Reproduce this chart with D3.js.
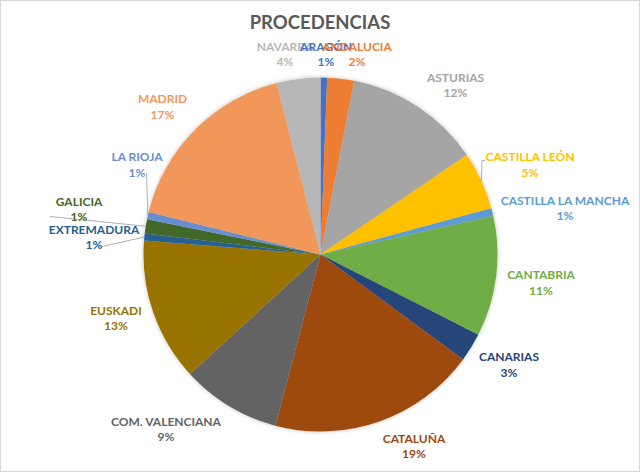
<!DOCTYPE html>
<html>
<head>
<meta charset="utf-8">
<script src="https://cdn.jsdelivr.net/npm/d3@7"></script>
<style>
  html, body { margin: 0; padding: 0; background: #fff; }
  svg { display: block; }
  text { font-family: Lato, "Open Sans", sans-serif; font-weight: bold; }
</style>
</head>
<body>
<svg id="chart" width="640" height="473"></svg>
<script>
// ---- data ----
const regions = ["ARAGÓN", "ANDALUCIA", "ASTURIAS", "CASTILLA LEÓN", "CASTILLA LA MANCHA",
  "CANTABRIA", "CANARIAS", "CATALUÑA", "COM. VALENCIANA", "EUSKADI",
  "EXTREMADURA", "GALICIA", "LA RIOJA", "MADRID", "NAVARRA"];
const shares = [0.6, 2.45, 12.45, 5.3, 0.7, 11.0, 2.6, 19.0, 9.1, 13.05, 0.65, 1.3, 0.65, 17.15, 4.0];
const colors = ["#4472C4", "#ED7D31", "#A5A5A5", "#FFC000", "#5B9BD5",
  "#70AD47", "#264478", "#9E480E", "#636363", "#997300",
  "#255E91", "#43682B", "#698ED0", "#F1975A", "#B7B7B7"];
const title = "PROCEDENCIAS";

// ---- layout (label block centres, leader line starts) ----
const labelPos = {
  "ARAGÓN": [326, 54], "ANDALUCIA": [357, 54], "ASTURIAS": [455.5, 85.3],
  "CASTILLA LEÓN": [530, 164.7], "CASTILLA LA MANCHA": [565, 208.3], "CANTABRIA": [541, 282.5],
  "CANARIAS": [509, 364.7], "CATALUÑA": [414, 446], "COM. VALENCIANA": [166, 429],
  "EUSKADI": [116, 318.3], "EXTREMADURA": [94, 237], "GALICIA": [79, 209],
  "LA RIOJA": [137, 164.7], "MADRID": [162.5, 106.7], "NAVARRA": [285, 54]
};
const leaders = {
  "CASTILLA LEÓN": [[485, 160.5], [482, 160.5]],
  "LA RIOJA": [[146.5, 173]],
  "GALICIA": [[50, 216.5]],
  "EXTREMADURA": [[100, 247]]
};

const W = 640, H = 473;
const cx = 320.5, cy = 254.5, R = 177;
const svg = d3.select("#chart");

svg.append("rect").attr("x", 0.5).attr("y", 0.5).attr("width", W - 1).attr("height", H - 2)
  .attr("fill", "#fff").attr("stroke", "#d9d9d9");

const defs = svg.append("defs");
const f = defs.append("filter").attr("id", "sh").attr("x", "-10%").attr("y", "-10%")
  .attr("width", "120%").attr("height", "120%");
f.append("feDropShadow").attr("dx", 0).attr("dy", 0).attr("stdDeviation", 2)
  .attr("flood-color", "#000").attr("flood-opacity", 0.25);

svg.append("text").attr("x", 320).attr("y", 28.5).attr("text-anchor", "middle")
  .attr("font-size", 18.5).attr("fill", "#595959").text(title);

const data = regions.map((name, i) => ({ name, value: shares[i], color: colors[i] }));
const total = d3.sum(shares);
const pie = d3.pie().sort(null).value(d => d.value);
const arcs = pie(data);
const arc = d3.arc().innerRadius(0).outerRadius(R);

const g = svg.append("g").attr("transform", `translate(${cx},${cy})`);
g.append("g").attr("filter", "url(#sh)")
  .selectAll("path").data(arcs).join("path")
  .attr("d", arc).attr("fill", d => d.data.color);

// leader lines
const edge = a => {
  const m = (a.startAngle + a.endAngle) / 2;
  return [cx + R * Math.sin(m), cy - R * Math.cos(m)];
};
arcs.forEach(a => {
  const pts = leaders[a.data.name];
  if (!pts) return;
  const all = pts.concat([edge(a)]);
  svg.append("path").attr("d", d3.line()(all)).attr("fill", "none")
    .attr("stroke", "#a6a6a6").attr("stroke-width", 0.9);
});

// labels (Navarra drawn first so others sit on top)
const pct = d3.format(".0%");
const order = [arcs[arcs.length - 1]].concat(arcs.slice(0, -1));
const lg = svg.append("g");
order.forEach(a => {
  const [x, y] = labelPos[a.data.name];
  const t = lg.append("text").attr("text-anchor", "middle").attr("font-size", 12)
    .attr("fill", a.data.color);
  t.append("tspan").attr("x", x).attr("y", y - 7.75 + 4.3).text(a.data.name);
  t.append("tspan").attr("x", x).attr("y", y + 7.75 + 4.3).text(pct(a.data.value / total));
});
</script>
</body>
</html>
